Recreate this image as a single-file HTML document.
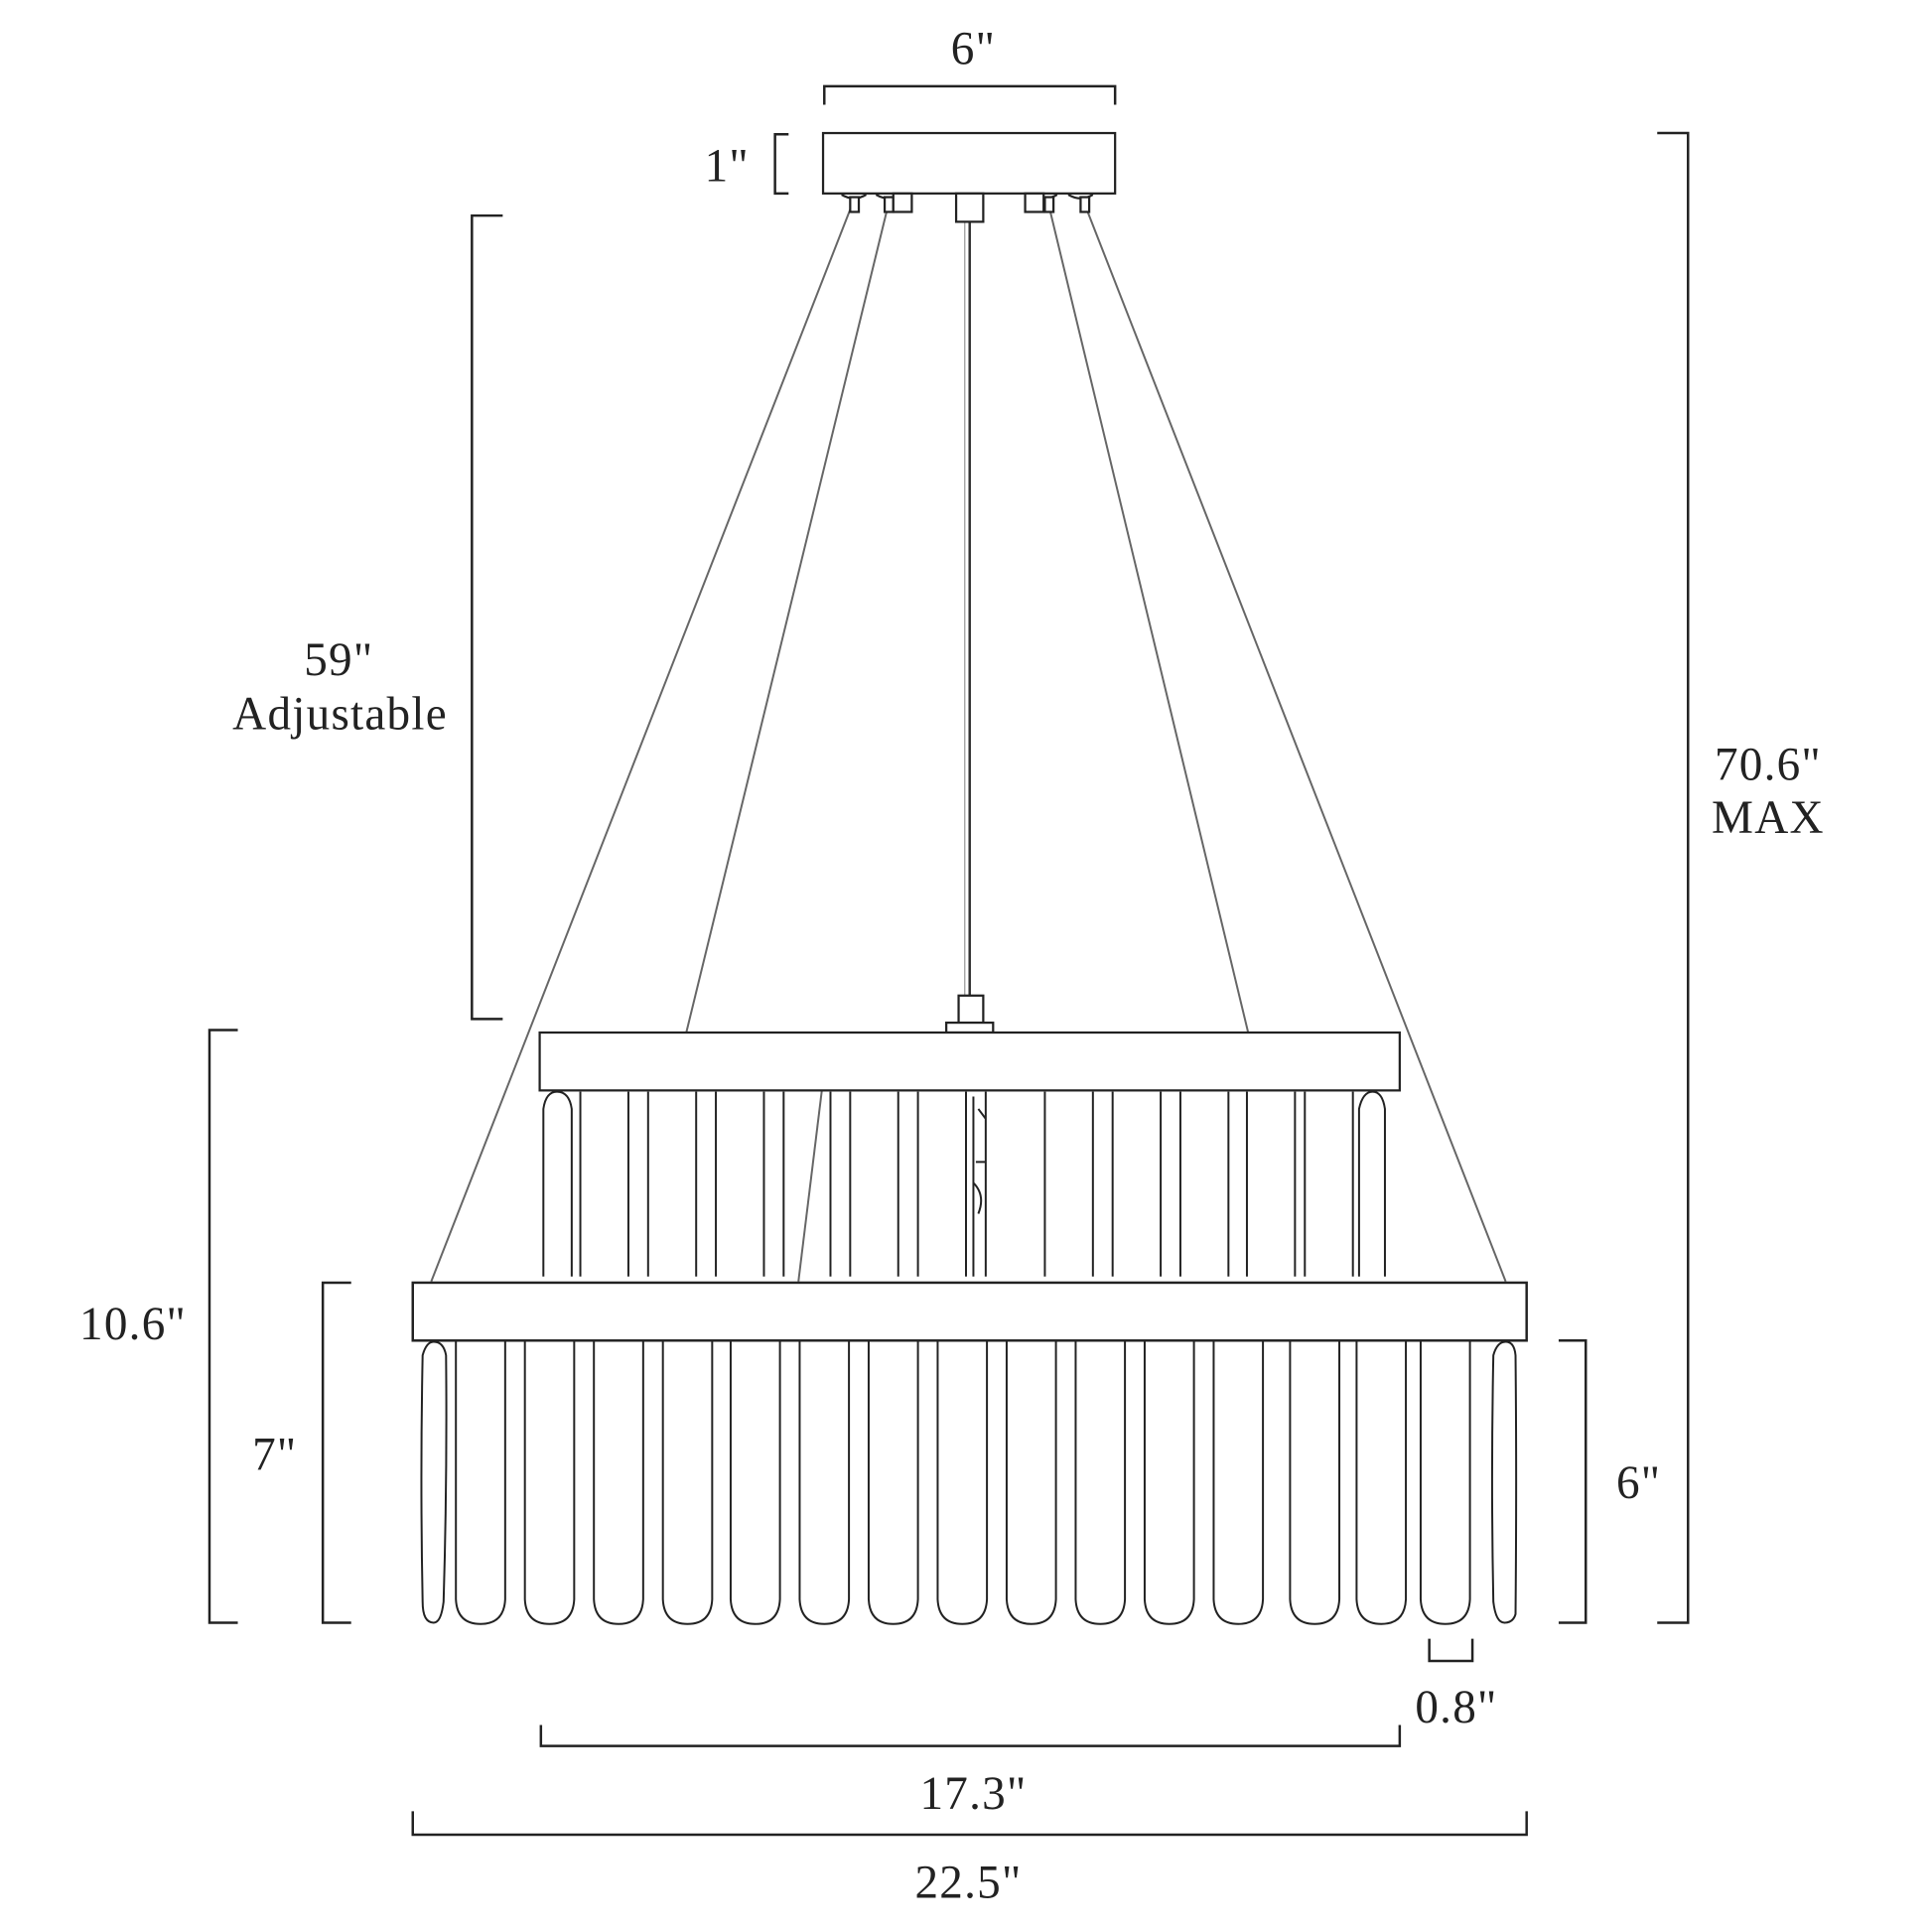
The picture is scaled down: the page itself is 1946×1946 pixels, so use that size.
<!DOCTYPE html>
<html><head><meta charset="utf-8"><style>
html,body{margin:0;padding:0;background:#fff;}
svg{display:block;}
text{font-family:"Liberation Serif",serif;fill:#222;font-size:38px;text-anchor:middle;letter-spacing:1px;}
</style></head><body>
<svg width="1946" height="1946" viewBox="0 0 1568 1568" xmlns="http://www.w3.org/2000/svg">
<g fill="none" stroke="#222" stroke-width="2">
<path d="M669 85V70H905V85"/>
<path d="M640 109H629V157H640"/>
<path d="M408 175H383V827H408"/>
<path d="M193 836H170V1317H193"/>
<path d="M285 1041H262V1317H285"/>
<path d="M1265 1088H1287V1317H1265"/>
<path d="M1345 108H1370V1317H1345"/>
<path d="M1160 1330V1348H1195V1330"/>
<path d="M439 1400V1417H1136V1400"/>
<path d="M335 1470V1489H1239V1470"/>
</g>
<g stroke="#666" stroke-width="1.6" fill="none">
<line x1="690" y1="170" x2="350" y2="1040"/>
<line x1="720" y1="170" x2="557" y2="838"/>
<line x1="852" y1="170" x2="1013" y2="838"/>
<line x1="882" y1="170" x2="1222" y2="1040"/>
<line x1="667" y1="885" x2="648" y2="1040"/>
<line x1="787" y1="180" x2="787" y2="808" stroke="#333" stroke-width="2"/>
<line x1="783" y1="180" x2="783" y2="808" stroke="#999" stroke-width="1"/>
</g>
<g stroke="#222" stroke-width="1.8" fill="#fff">
<rect x="668" y="108" width="237" height="49"/>
<path d="M683 158q10 6 20 0M711 158q10 6 20 0M838 158q10 6 20 0M867 158q10 6 20 0"/>
<rect x="690" y="160" width="7" height="12"/><rect x="718" y="160" width="7" height="12"/>
<rect x="725" y="157" width="15" height="15"/><rect x="832" y="157" width="15" height="15"/>
<rect x="848" y="160" width="7" height="12"/><rect x="877" y="160" width="7" height="12"/>
<rect x="776" y="157" width="22" height="23"/>
<rect x="778" y="808" width="20" height="22"/>
<rect x="768" y="830" width="38" height="8"/>
<rect x="438" y="838" width="698" height="47"/>
</g>
<g stroke="#222" stroke-width="1.6" fill="#fff">
<path d="M441 1036V900Q443 886 452 886Q462 886 464 900V1036"/>
<path d="M471 886V1036M510 886V1036"/>
<path d="M526 886V1036M565 886V1036"/>
<path d="M581 886V1036M620 886V1036"/>
<path d="M636 886V1036M674 886V1036"/>
<path d="M690 886V1036M729 886V1036"/>
<path d="M745 886V1036M784 886V1036"/>
<path d="M848 886V1036M887 886V1036"/>
<path d="M903 886V1036M942 886V1036"/>
<path d="M958 886V1036M997 886V1036"/>
<path d="M1012 886V1036M1051 886V1036"/>
<path d="M1059 886V1036M1098 886V1036"/>
<path d="M1103 1036V900Q1106 886 1114 886Q1122 886 1124 900V1036"/>
<path d="M790 890V1036M800 886V1036M794 900l6 8v35h-8M790 960q10 10 4 25" fill="none"/>
</g>
<rect x="335" y="1041" width="904" height="47" fill="#fff" stroke="#222" stroke-width="2"/>
<g stroke="#222" stroke-width="1.6" fill="#fff">
<path d="M343 1300Q341 1200 343 1100Q346 1089 352 1089Q360 1089 362 1100Q363 1200 360 1300Q358 1317 352 1317Q343 1317 343 1300Z"/>
<path d="M1212 1300Q1210 1200 1212 1100Q1215 1089 1222 1089Q1229 1089 1230 1100Q1231 1200 1230 1310Q1228 1317 1221 1317Q1214 1317 1212 1300Z"/>
</g>
<g stroke="#222" stroke-width="1.6" fill="#fff" id="cr">
<path d="M370 1089V1298Q371 1318 390 1318Q409 1318 410 1298V1089"/>
</g>
<g stroke="#222" stroke-width="1.6" fill="#fff">
<use href="#cr" x="56"/><use href="#cr" x="112"/><use href="#cr" x="168"/><use href="#cr" x="223"/>
<use href="#cr" x="279"/><use href="#cr" x="335"/><use href="#cr" x="391"/><use href="#cr" x="447"/>
<use href="#cr" x="503"/><use href="#cr" x="559"/><use href="#cr" x="615"/><use href="#cr" x="677"/>
<use href="#cr" x="731"/><use href="#cr" x="783"/>
</g>
<g>
<text x="790" y="52">6"</text>
<text x="590" y="147">1"</text>
<text x="275" y="548">59"</text>
<text x="276" y="592">Adjustable</text>
<text x="108" y="1087">10.6"</text>
<text x="223" y="1193">7"</text>
<text x="1330" y="1216">6"</text>
<text x="1435" y="633">70.6"</text>
<text x="1435" y="676">MAX</text>
<text x="1182" y="1398">0.8"</text>
<text x="790" y="1468">17.3"</text>
<text x="786" y="1540">22.5"</text>
</g>
</svg>
</body></html>
